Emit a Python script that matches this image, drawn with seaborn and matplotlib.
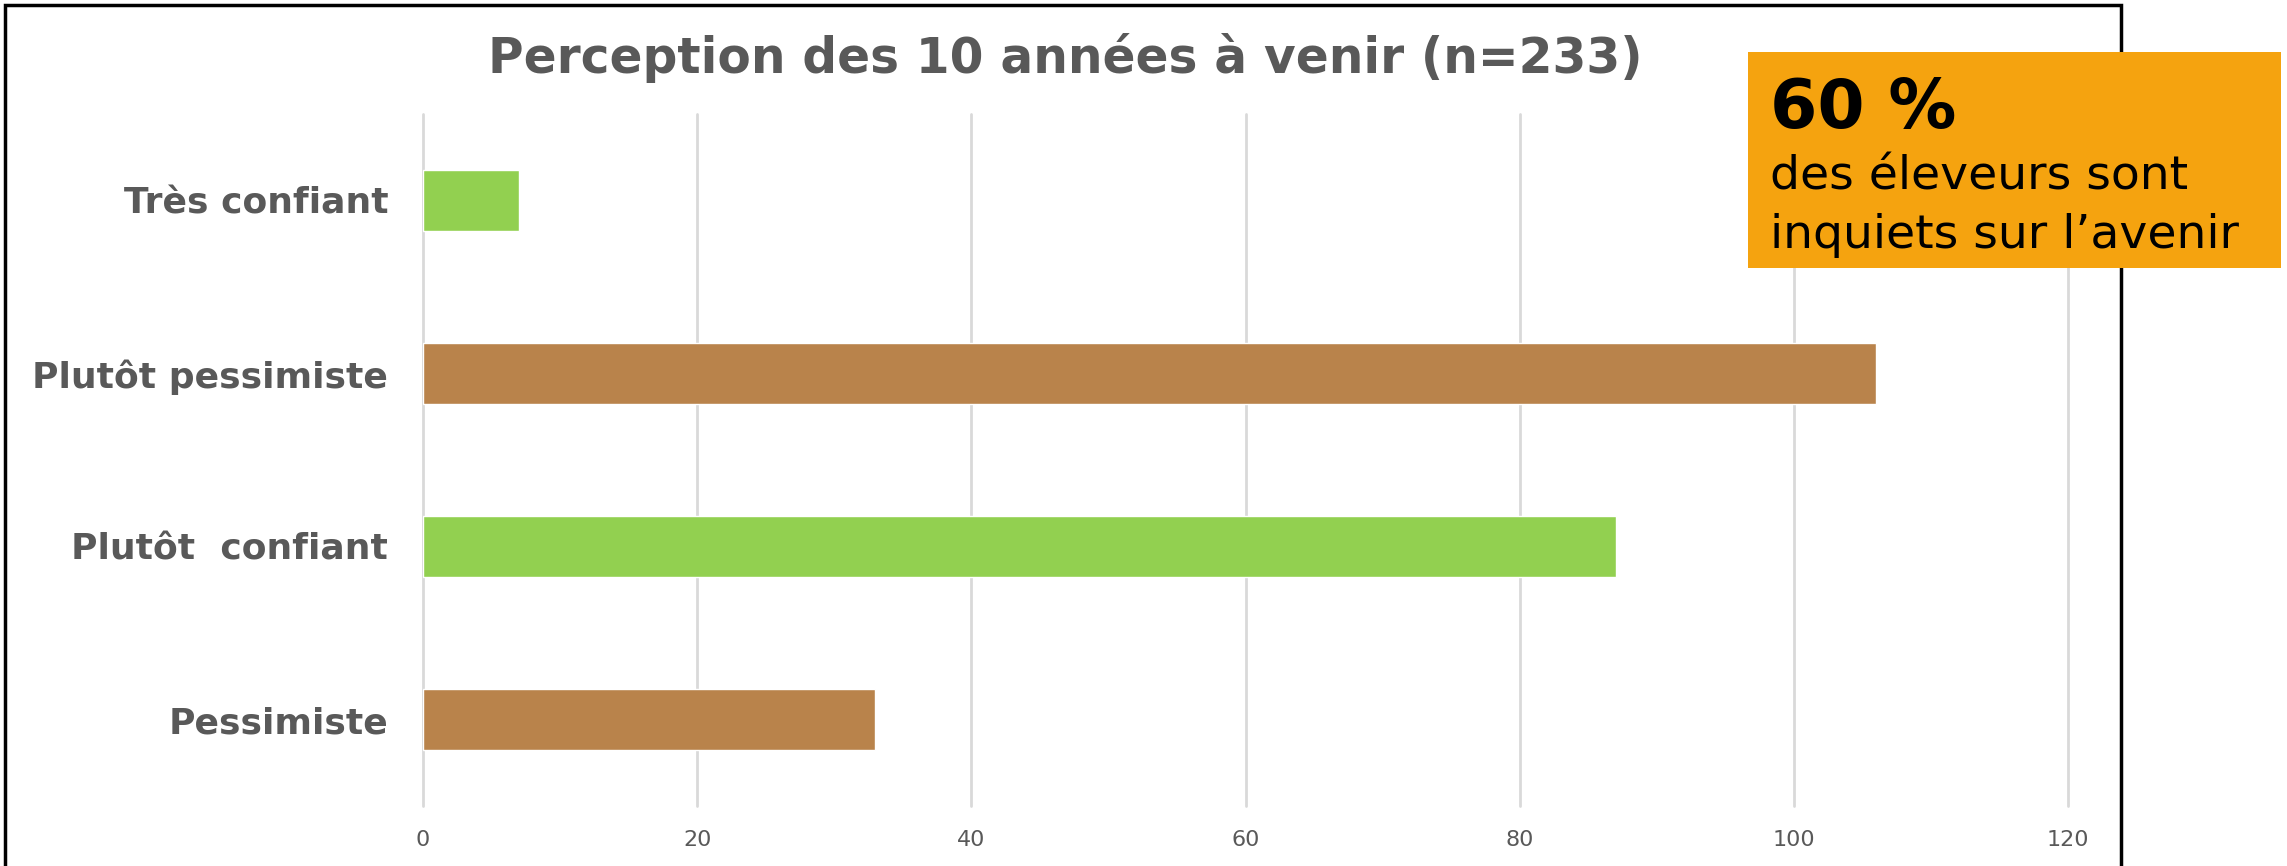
import matplotlib
matplotlib.use("Agg")
import matplotlib.pyplot as plt
from matplotlib.patches import Rectangle
import seaborn as sns
import pandas as pd

categories = ["Très confiant", "Plutôt pessimiste", "Plutôt  confiant", "Pessimiste"]
values = [7, 106, 87, 33]
bar_colors = ["#92D050", "#B9834B", "#92D050", "#B9834B"]
x_ticks = [0, 20, 40, 60, 80, 100, 120]
title = "Perception des 10 années à venir (n=233)"
callout_big = "60 %"
callout_lines = ["des éleveurs sont", "inquiets sur l\u2019avenir"]

sns.set_theme(style="white")
plt.rcParams["font.family"] = ["DejaVu Sans"]

W, H = 2287, 866
fig = plt.figure(figsize=(W / 100, H / 100), dpi=100)
ax = fig.add_axes([423 / W, 1 - 806 / H, (2068 - 423) / W, (806 - 114) / H])

df = pd.DataFrame({"cat": categories, "val": values})
sns.barplot(data=df, y="cat", x="val", hue="cat", palette=bar_colors,
            legend=False, width=0.35, ax=ax, orient="h", saturation=1)

ax.set_xlim(0, 120)
ax.set_ylim(3.5, -0.5)
ax.set_xticks(x_ticks)
ax.set_xticklabels([str(t) for t in x_ticks])
ax.set_xlabel("")
ax.set_ylabel("")
for s in ax.spines.values():
    s.set_visible(False)
ax.grid(axis="x", color="#D9D9D9", linewidth=2)
ax.grid(axis="y", visible=False)
for gl in ax.get_xgridlines():
    gl.set_clip_on(False)
ax.set_axisbelow(True)
ax.tick_params(axis="x", length=0, pad=17, labelsize=16, labelcolor="#595959")
ax.tick_params(axis="y", length=0, pad=25, labelsize=26, labelcolor="#595959")
for lab in ax.get_yticklabels():
    lab.set_fontweight("bold")

fig.text(1065 / W, 1 - 73 / H, title, ha="center", va="baseline",
         fontsize=35, fontweight="bold", color="#595959")

# outer frame
fig.patches.append(Rectangle((5 / W, -0.1), (2121 - 5) / W, 1.1 - 5 / H,
                             transform=fig.transFigure, fill=False,
                             edgecolor="black", linewidth=2.5, zorder=5))

# callout box
fig.patches.append(Rectangle((1748 / W, 1 - 268 / H), (2281 - 1748) / W, (268 - 52) / H,
                             transform=fig.transFigure, facecolor="#F5A30F",
                             edgecolor="none", zorder=6))
fig.text(1770 / W, 1 - 128 / H, callout_big, ha="left", va="baseline",
         fontsize=49, fontweight="bold", color="black", zorder=7)
fig.text(1770 / W, 1 - 189 / H, callout_lines[0], ha="left", va="baseline",
         fontsize=34, color="black", zorder=7)
fig.text(1770 / W, 1 - 248 / H, callout_lines[1], ha="left", va="baseline",
         fontsize=34, color="black", zorder=7)

fig.savefig("out.png", dpi=100)
